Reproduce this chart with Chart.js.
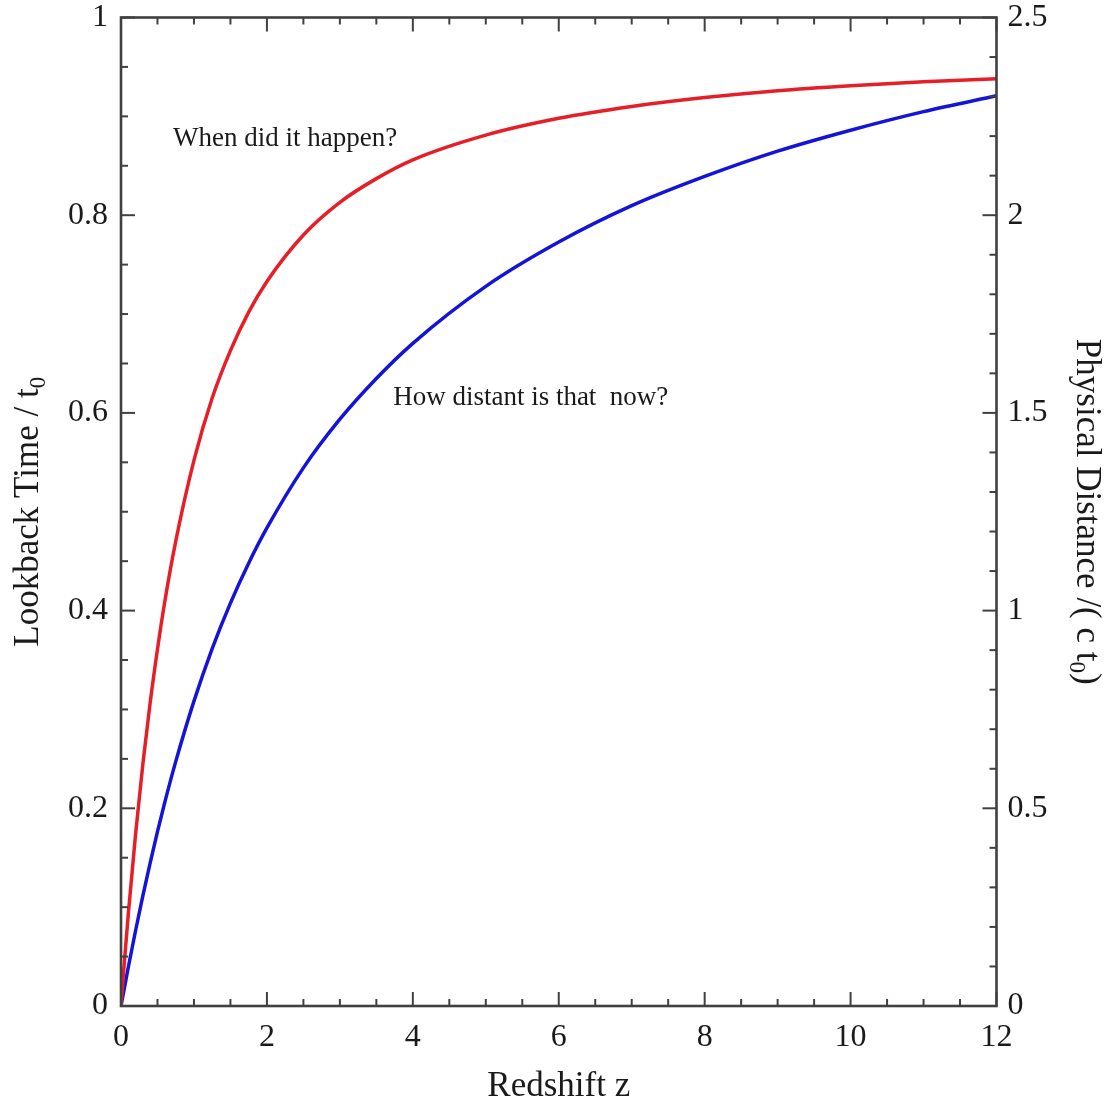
<!DOCTYPE html>
<html>
<head>
<meta charset="utf-8">
<script src="https://cdn.jsdelivr.net/npm/chart.js@4.4.1/dist/chart.umd.min.js"></script>
<style>
  html, body { margin: 0; padding: 0; background: #ffffff; }
  #wrap { width: 1110px; height: 1104px; position: relative; }
</style>
</head>
<body>
<div id="wrap"><canvas id="c"></canvas></div>
<script>
// Redshift z
const redshift = [0, 0.05, 0.1, 0.2, 0.3, 0.4, 0.5, 0.6, 0.75, 1, 1.25, 1.5, 1.75, 2, 2.5, 3, 3.5, 4, 5, 6, 7, 8, 9, 10, 11, 12];
// Lookback Time / t0 (left axis)
const lookbackTime = [0, 0.048, 0.093, 0.174, 0.245, 0.307, 0.361, 0.409, 0.470, 0.552, 0.615, 0.663, 0.702, 0.733, 0.780, 0.813, 0.837, 0.856, 0.881, 0.898, 0.910, 0.919, 0.926, 0.931, 0.935, 0.938];
// Physical Distance / (c t0) (right axis)
const physicalDistance = [0, 0.049, 0.098, 0.191, 0.279, 0.362, 0.441, 0.515, 0.618, 0.771, 0.904, 1.019, 1.120, 1.209, 1.361, 1.484, 1.587, 1.676, 1.820, 1.932, 2.024, 2.098, 2.162, 2.215, 2.262, 2.302];

const xTickValues = [0, 2, 4, 6, 8, 10, 12];
const leftTickValues = [0, 0.2, 0.4, 0.6, 0.8, 1];
const rightTickValues = [0, 0.5, 1, 1.5, 2, 2.5];

const annotations = [
  { text: 'When did it happen?', x: 0.713, y: 0.870 },
  { text: 'How distant is that  now?', x: 3.73, y: 0.608 }
];

const SERIF = "'Liberation Serif', 'Times New Roman', Times, serif";
const TEXT = '#1a1a1a';
const AXIS = '#404040';

function drawRich(ctx, parts, size) {
  let total = 0;
  const widths = parts.map(p => {
    ctx.font = (p.sub ? Math.round(size * 0.65) : size) + 'px ' + SERIF;
    const w = ctx.measureText(p.t).width;
    total += w;
    return w;
  });
  let x = -total / 2;
  parts.forEach((p, i) => {
    ctx.font = (p.sub ? Math.round(size * 0.65) : size) + 'px ' + SERIF;
    ctx.fillText(p.t, x, p.sub ? size * 0.2 : 0);
    x += widths[i];
  });
}

const framePlugin = {
  id: 'frame',
  afterDatasetsDraw(chart) {
    const { ctx, chartArea: a, scales } = chart;
    const x = scales.x, y = scales.y, y2 = scales.y2;
    ctx.save();
    ctx.strokeStyle = AXIS;
    ctx.lineWidth = 2;
    ctx.lineCap = 'butt';
    const seg = (x1, y1, x2, y2_) => { ctx.beginPath(); ctx.moveTo(x1, y1); ctx.lineTo(x2, y2_); ctx.stroke(); };
    for (let i = 0; i <= 24; i++) {
      const px = x.getPixelForValue(i * 0.5);
      const L = (i % 4 === 0) ? 14 : 7;
      seg(px, a.bottom, px, a.bottom - L);
      seg(px, a.top, px, a.top + L);
    }
    for (let i = 0; i <= 20; i++) {
      const py = y.getPixelForValue(i * 0.05);
      const L = (i % 4 === 0) ? 14 : 7;
      seg(a.left, py, a.left + L, py);
    }
    for (let i = 0; i <= 25; i++) {
      const py = y2.getPixelForValue(i * 0.1);
      const L = (i % 5 === 0) ? 14 : 7;
      seg(a.right, py, a.right - L, py);
    }
    ctx.lineWidth = 2.6;
    ctx.strokeRect(a.left, a.top, a.right - a.left, a.bottom - a.top);

    ctx.fillStyle = TEXT;
    ctx.textAlign = 'left';
    ctx.textBaseline = 'alphabetic';
    ctx.font = '27px ' + SERIF;
    annotations.forEach(n => {
      ctx.fillText(n.text, x.getPixelForValue(n.x), y.getPixelForValue(n.y));
    });

    const cx = (a.left + a.right) / 2;
    const cy = (a.top + a.bottom) / 2;
    ctx.save();
    ctx.translate(cx, 1096);
    drawRich(ctx, [{ t: 'Redshift z' }], 35);
    ctx.restore();

    ctx.save();
    ctx.translate(38, cy);
    ctx.rotate(-Math.PI / 2);
    drawRich(ctx, [{ t: 'Lookback Time / t' }, { t: '0', sub: true }], 35);
    ctx.restore();

    ctx.save();
    ctx.translate(1077, cy);
    ctx.rotate(Math.PI / 2);
    drawRich(ctx, [{ t: 'Physical Distance /( c t' }, { t: '0', sub: true }, { t: ')' }], 35);
    ctx.restore();

    ctx.restore();
  }
};

const tickFont = { family: SERIF, size: 32 };
const noPadY = s => { s.paddingTop = 0; s.paddingBottom = 0; };
const noPadX = s => { s.paddingLeft = 0; s.paddingRight = 0; };

new Chart(document.getElementById('c'), {
  type: 'line',
  data: {
    datasets: [
      {
        label: 'Lookback Time / t0',
        data: redshift.map((z, i) => ({ x: z, y: lookbackTime[i] })),
        yAxisID: 'y',
        borderColor: '#e61e28',
        borderWidth: 3.5,
        pointRadius: 0,
        fill: false,
        cubicInterpolationMode: 'monotone'
      },
      {
        label: 'Physical Distance /( c t0)',
        data: redshift.map((z, i) => ({ x: z, y: physicalDistance[i] })),
        yAxisID: 'y2',
        borderColor: '#1414d8',
        borderWidth: 3.5,
        pointRadius: 0,
        fill: false,
        cubicInterpolationMode: 'monotone'
      }
    ]
  },
  options: {
    responsive: true,
    maintainAspectRatio: false,
    animation: false,
    layout: { padding: { top: 17.5, left: 0, right: 0, bottom: 0 } },
    plugins: { legend: { display: false }, tooltip: { enabled: false } },
    scales: {
      x: {
        type: 'linear',
        position: 'bottom',
        min: 0, max: 12,
        grid: { display: false, drawTicks: false },
        border: { display: false },
        afterBuildTicks: s => { s.ticks = xTickValues.map(v => ({ value: v })); },
        afterFit: s => { s.height = 98; noPadX(s); },
        ticks: { font: tickFont, color: TEXT, padding: 12, maxRotation: 0, autoSkip: false, callback: v => String(v) }
      },
      y: {
        type: 'linear',
        position: 'left',
        min: 0, max: 1,
        grid: { display: false, drawTicks: false },
        border: { display: false },
        afterBuildTicks: s => { s.ticks = leftTickValues.map(v => ({ value: v })); },
        afterFit: s => { s.width = 121; noPadY(s); },
        ticks: { font: tickFont, color: TEXT, padding: 13, autoSkip: false, callback: v => String(v) }
      },
      y2: {
        type: 'linear',
        position: 'right',
        min: 0, max: 2.5,
        grid: { display: false, drawTicks: false },
        border: { display: false },
        afterBuildTicks: s => { s.ticks = rightTickValues.map(v => ({ value: v })); },
        afterFit: s => { s.width = 113.5; noPadY(s); },
        ticks: { font: tickFont, color: TEXT, padding: 11, autoSkip: false, callback: v => String(v) }
      }
    }
  },
  plugins: [framePlugin]
});
</script>
</body>
</html>
